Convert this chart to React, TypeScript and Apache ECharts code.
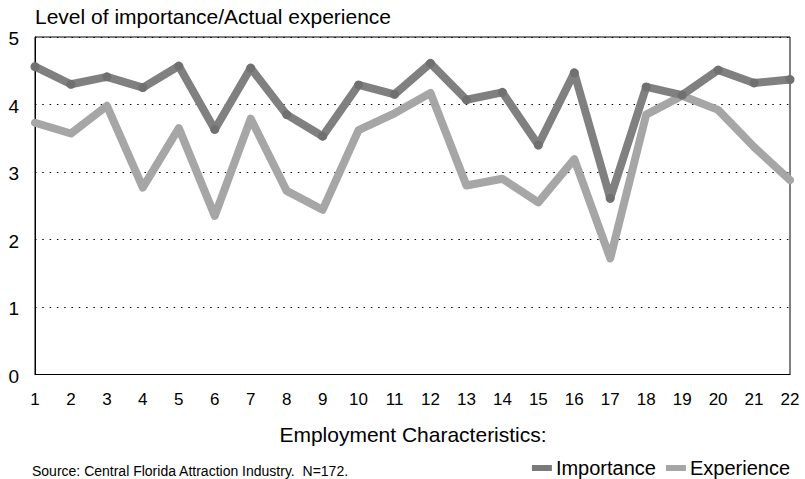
import React, { useEffect, useRef } from "react";
import * as echarts from "echarts";

const categories = ["1","2","3","4","5","6","7","8","9","10","11","12","13","14","15","16","17","18","19","20","21","22"];
const importance = [4.56, 4.30, 4.41, 4.25, 4.57, 3.63, 4.54, 3.85, 3.53, 4.29, 4.15, 4.61, 4.07, 4.18, 3.40, 4.47, 2.61, 4.26, 4.14, 4.51, 4.32, 4.37];
const experience = [3.73, 3.57, 3.98, 2.77, 3.65, 2.35, 3.79, 2.72, 2.44, 3.62, 3.87, 4.17, 2.80, 2.90, 2.55, 3.19, 1.72, 3.85, 4.13, 3.92, 3.37, 2.88];
const yTicks = { min: 0, max: 5, interval: 1 };

const titleText = "Level of importance/Actual experience";
const xName = "Employment Characteristics:";
const sourceText = "Source: Central Florida Attraction Industry.  N=172.";

const FONT = "'Liberation Sans', Arial, sans-serif";

export default function App() {
  const ref = useRef<HTMLDivElement>(null);
  useEffect(() => {
    if (!ref.current) return;
    const chart = echarts.init(ref.current, null, { renderer: "svg" });
    chart.setOption({
      animation: false,
      backgroundColor: "#fff",
      textStyle: { fontFamily: FONT },
      grid: {
        left: 35,
        top: 37,
        width: 755,
        height: 337.5,
        show: true,
        borderColor: "#000",
        borderWidth: 1,
        backgroundColor: "transparent",
      },
      legend: {
        right: 15,
        top: 458,
        padding: 0,
        icon: "rect",
        itemWidth: 20,
        itemHeight: 6,
        itemGap: 10,
        textStyle: { fontSize: 20, color: "#000", fontFamily: FONT, padding: [0, 0, 0, -1] },
        data: [
          { name: "Importance", itemStyle: { color: "#7a7a7a" } },
          { name: "Experience", itemStyle: { color: "#a6a6a6" } },
        ],
      },
      xAxis: {
        type: "category",
        data: categories,
        boundaryGap: false,
        axisLine: { show: true, lineStyle: { color: "#000", width: 1 } },
        axisTick: { show: false },
        axisLabel: { interval: 0, fontSize: 17, color: "#000", margin: 16, fontFamily: FONT },
        splitLine: { show: false },
      },
      yAxis: {
        type: "value",
        min: yTicks.min,
        max: yTicks.max,
        interval: yTicks.interval,
        axisLine: { show: true, lineStyle: { color: "#000", width: 1 } },
        axisTick: { show: false },
        axisLabel: { fontSize: 19, color: "#000", margin: 16, fontFamily: FONT, verticalAlign: "top", padding: [-8, 0, 0, 0] },
        splitLine: { show: true, lineStyle: { color: "#000", width: 1, type: [1.5, 5.8] } },
      },
      graphic: [
        {
          type: "text",
          left: 35,
          top: 6,
          style: { text: titleText, fontSize: 21, fill: "#000", fontFamily: FONT },
        },
        {
          type: "text",
          x: 413,
          y: 434,
          style: { text: xName, fontSize: 21, fill: "#000", fontFamily: FONT, align: "center", verticalAlign: "middle" },
        },
        {
          type: "text",
          x: 32,
          y: 471,
          style: { text: sourceText, fontSize: 14, fill: "#000", fontFamily: FONT, verticalAlign: "middle" },
        },
      ],
      series: [
        {
          name: "Experience",
          type: "line",
          data: experience,
          symbol: "none",
          lineStyle: { color: "#a6a6a6", width: 8, cap: "round", join: "round" },
          itemStyle: { color: "#a6a6a6" },
          z: 2,
        },
        {
          name: "Importance",
          type: "line",
          data: importance,
          symbol: "circle",
          symbolSize: 9,
          showSymbol: true,
          lineStyle: { color: "#808080", width: 8, cap: "round", join: "round" },
          itemStyle: { color: "#707070" },
          z: 3,
        },
      ],
    });
    return () => chart.dispose();
  }, []);
  return <div ref={ref} style={{ position: "fixed", left: 0, top: 0, width: 805, height: 479 }} />;
}
